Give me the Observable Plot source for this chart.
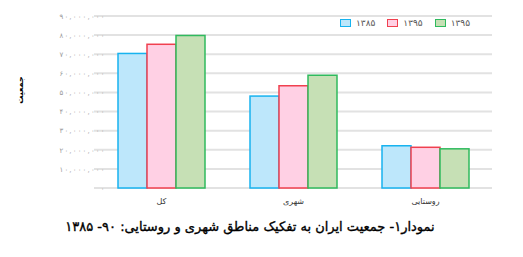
<!DOCTYPE html>
<html><head><meta charset="utf-8">
<script src="https://cdn.jsdelivr.net/npm/d3@7"></script>
<script src="https://cdn.jsdelivr.net/npm/@observablehq/plot@0.6"></script>
<style>
body{margin:0;background:#fff;font-family:"DejaVu Sans",sans-serif;}
#wrap{position:relative;width:523px;height:257px;}
#legend{position:absolute;top:18px;left:340px;display:flex;gap:0;font-size:9px;color:#555;}
#legend .it{display:flex;align-items:center;margin-right:12px;}
#legend .sw{width:9px;height:6px;border:1.5px solid;margin-right:5px;}
#ylab{position:absolute;left:20px;top:90px;transform:translate(-50%,-50%) rotate(-90deg);font-size:8px;font-weight:bold;color:#000;}
#title{position:absolute;top:219px;left:0;width:500px;text-align:center;font-size:13px;color:#000;direction:rtl;-webkit-text-stroke:0.35px #000;}
</style></head>
<body><div id="wrap"><div id="chart"></div><div id="legend"></div><div id="ylab">جمعیت</div><div id="title">نمودار۱- جمعیت ایران به تفکیک مناطق شهری و روستایی: ۹۰- ۱۳۸۵</div></div>
<script>
const regions = ["کل", "شهری", "روستایی"];
const seriesKeys = ["s1", "s2", "s3"];
const seriesLabels = ["۱۳۸۵", "۱۳۹۵", "۱۳۹۵"];
const s1 = [70.4e6, 48.1e6, 22.1e6];
const s2 = [75.2e6, 53.5e6, 21.3e6];
const s3 = [79.8e6, 59.0e6, 20.5e6];
const yTicks = [0,10e6,20e6,30e6,40e6,50e6,60e6,70e6,80e6,90e6];
const fills = ["#bde7fb", "#ffd0e4", "#c6e0b5"];
const strokes = ["#17b3ef", "#f0404f", "#2fba5e"];

const seriesVals = [s1, s2, s3];
const data = [];
regions.forEach((r, i) => seriesKeys.forEach((k, j) => data.push({region: r, series: k, value: seriesVals[j][i]})));

const fa = s => s.replace(/\d/g, d => "۰۱۲۳۴۵۶۷۸۹"[d]);
const fmt = d3.format(",");

const W = 523, H = 215, mL = 94, mR = 31;
const plot = Plot.plot({
  width: W, height: H,
  marginLeft: mL, marginRight: mR, marginTop: 16, marginBottom: 27,
  style: {fontFamily: "DejaVu Sans, sans-serif", background: "#fff"},
  fx: {domain: regions, paddingInner: 0.333, paddingOuter: 0.167, label: null, tickSize: 0, tickPadding: 10},
  x: {domain: seriesKeys, axis: null, padding: 0},
  y: {domain: [0, 90e6], ticks: yTicks, tickFormat: d => fa(fmt(d)), tickSize: 0, tickPadding: 13, label: null},
  color: {domain: seriesKeys, range: fills},
  marks: [
    Plot.barY(data, {fx: "region", x: "series", y: "value", fill: "series", stroke: d => strokes[seriesKeys.indexOf(d.series)], strokeWidth: 1.5})
  ]
});
document.getElementById("chart").appendChild(plot);
// grid lines across full frame, drawn with the plot's own y scale, placed beneath the bars
const ys = plot.scale("y");
const svg = d3.select(plot);
const g = svg.insert("g", ":nth-child(2)").attr("aria-label", "grid");
g.selectAll("line").data(yTicks).join("line")
  .attr("x1", mL).attr("x2", W - mR)
  .attr("y1", d => ys.apply(d)).attr("y2", d => ys.apply(d))
  .attr("stroke", "#e2e2e2").attr("stroke-width", 2);
svg.selectAll("[aria-label='y-axis tick label'] text")
  .attr("fill", "#9a9a9a").style("font-size", "7px")
  .style("direction", "ltr").style("unicode-bidi", "bidi-override")
  .each(function() {
    const b0 = this.getBBox();
    const right = b0.x + b0.width;
    if (this.textContent.length > 1) { this.setAttribute("textLength", 45); this.setAttribute("lengthAdjust", "spacing"); }
    const b = this.getBBox();
    const shift = right - (b.x + b.width);
    this.setAttribute("transform", (this.getAttribute("transform") || "") + ` translate(${shift},0)`);
  });
svg.selectAll("[aria-label='fx-axis tick label'] text").attr("fill", "#333").style("font-size", "8px");

const leg = document.getElementById("legend");
seriesKeys.forEach((k, j) => {
  const it = document.createElement("div"); it.className = "it";
  it.innerHTML = `<span class="sw" style="background:${fills[j]};border-color:${strokes[j]}"></span><span>${seriesLabels[j]}</span>`;
  leg.appendChild(it);
});
</script></body></html>
